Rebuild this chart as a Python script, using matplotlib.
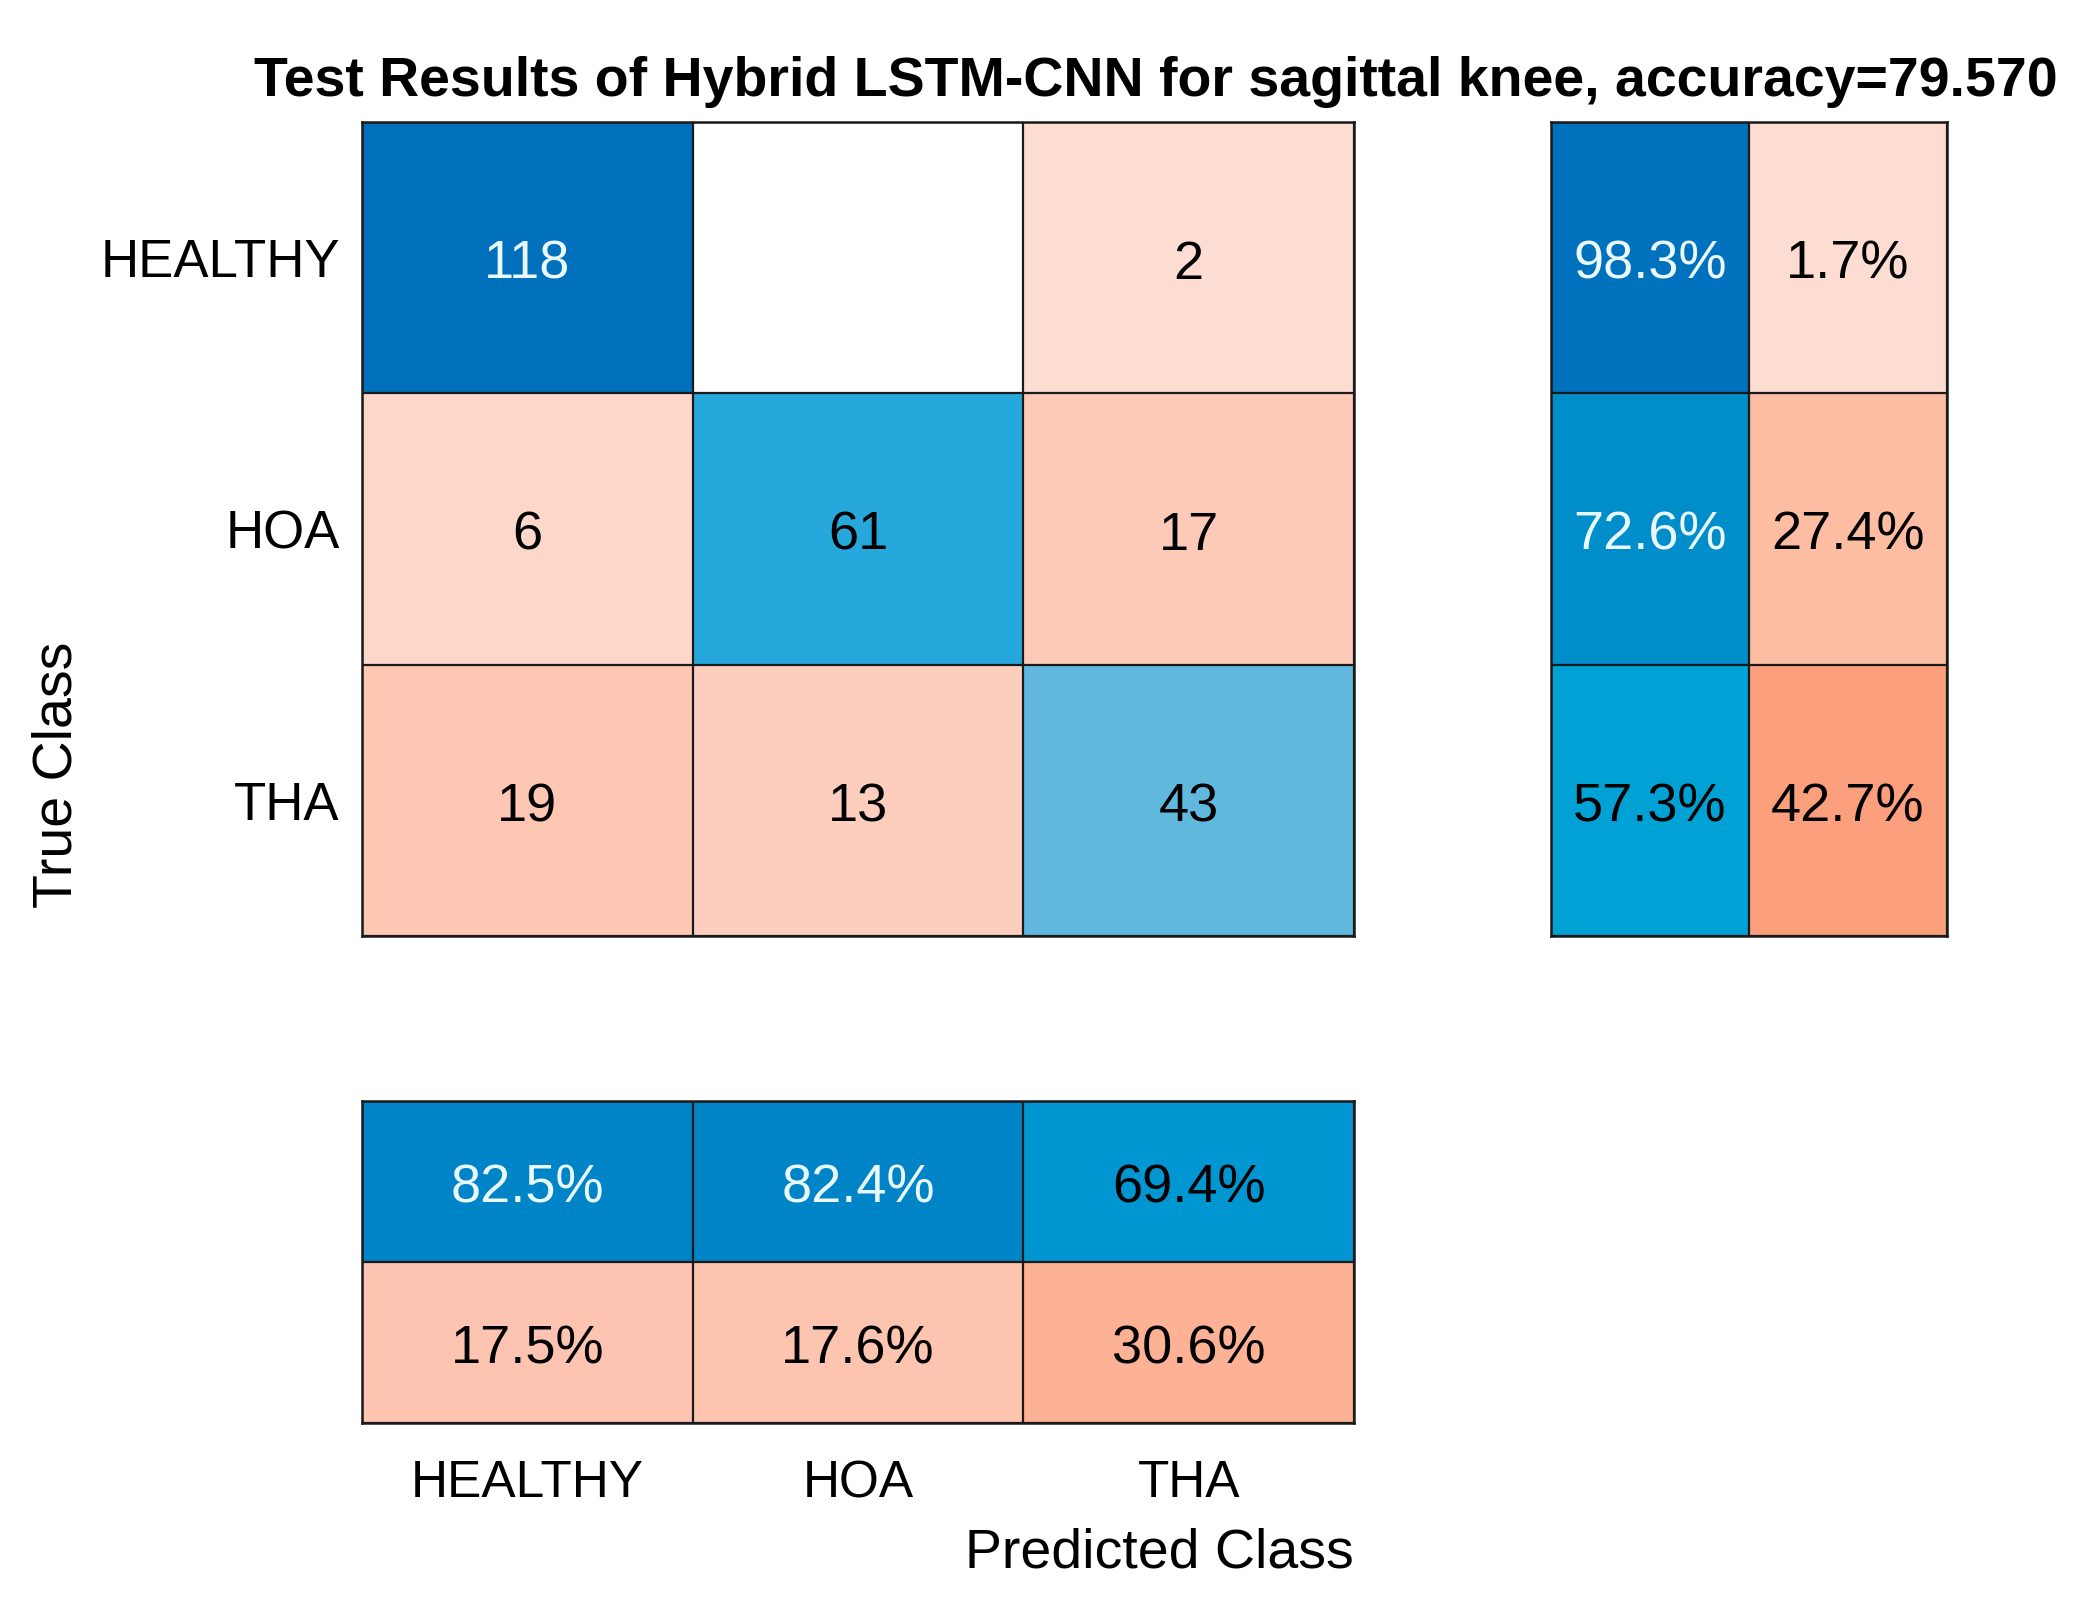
import numpy as np
import matplotlib
matplotlib.use("Agg")
import matplotlib.pyplot as plt
from matplotlib.colors import LinearSegmentedColormap

classes = ["HEALTHY", "HOA", "THA"]
conf = np.array([[118, 0, 2],
                 [6, 61, 17],
                 [19, 13, 43]])
row_summary = np.array([[98.3, 1.7],
                        [72.6, 27.4],
                        [57.3, 42.7]])
col_summary = np.array([[82.5, 82.4, 69.4],
                        [17.5, 17.6, 30.6]])
title = "Test Results of Hybrid LSTM-CNN for sagittal knee, accuracy=79.570"

plt.rcParams['font.family'] = ['Liberation Sans', 'DejaVu Sans']

def c(r, g, b):
    return (r / 255, g / 255, b / 255)

blue = LinearSegmentedColormap.from_list("bl", [
    (0.0, c(225, 242, 250)), (0.36, c(98, 185, 224)), (0.52, c(39, 168, 220)),
    (0.57, c(0, 162, 214)), (0.69, c(0, 152, 210)), (0.73, c(0, 141, 202)),
    (0.83, c(0, 132, 200)), (1.0, c(0, 112, 188))])
red = LinearSegmentedColormap.from_list("rd", [
    (0.0, c(254, 226, 217)), (0.017, c(253, 221, 210)), (0.175, c(253, 197, 177)),
    (0.274, c(253, 190, 164)), (0.306, c(253, 177, 149)), (0.427, c(252, 160, 126)),
    (1.0, c(215, 80, 40))])

W, H = 2085, 1612
fig = plt.figure(figsize=(W / 100, H / 100), dpi=100)

def draw(ax, vals, diagmask, norm, labels):
    nr, nc = vals.shape
    t = vals / norm
    rgb = np.ones((nr, nc, 3))
    for i in range(nr):
        for j in range(nc):
            if vals[i, j] == 0:
                continue
            cm = blue if diagmask[i, j] else red
            rgb[i, j] = cm(t[i, j])[:3]
    ax.imshow(rgb, aspect='auto', interpolation='nearest')
    for i in range(nr):
        for j in range(nc):
            if vals[i, j] == 0:
                continue
            col = '#eaf8ff' if (diagmask[i, j] and t[i, j] > 0.7) else 'black'
            ax.annotate(labels[i][j], (j, i), xytext=(0, -5), textcoords='offset points',
                        ha='center', va='center', fontsize=39, color=col)
    ax.set_xticks(np.arange(nc + 1) - 0.5, minor=True)
    ax.set_yticks(np.arange(nr + 1) - 0.5, minor=True)
    ax.grid(which='minor', color='#1a1a1a', linewidth=1.6)
    ax.tick_params(which='both', length=0)
    for s in ax.spines.values():
        s.set_color('#1a1a1a')
        s.set_linewidth(1.8)

# main
ax = fig.add_axes([362 / W, 1 - 936 / H, 992 / W, 814 / H])
lab = [[str(v) if v else "" for v in r] for r in conf]
draw(ax, conf.astype(float), np.eye(3, dtype=bool), conf.max(), lab)
ax.set_xticks([])
ax.set_yticks(range(3))
ax.set_yticklabels(classes, fontsize=38)
ax.tick_params(axis='y', which='major', pad=16)
for t_ in ax.get_yticklabels():
    t_.set_y(t_.get_position()[1])

# right summary
ax2 = fig.add_axes([1551 / W, 1 - 936 / H, 396 / W, 814 / H])
lab2 = [[f"{v:.1f}%" for v in r] for r in row_summary]
dm2 = np.zeros(row_summary.shape, bool); dm2[:, 0] = True
draw(ax2, row_summary, dm2, 100.0, lab2)
ax2.set_xticks([]); ax2.set_yticks([])

# bottom summary
ax3 = fig.add_axes([362 / W, 1 - 1423 / H, 992 / W, 322 / H])
lab3 = [[f"{v:.1f}%" for v in r] for r in col_summary]
dm3 = np.zeros(col_summary.shape, bool); dm3[0, :] = True
draw(ax3, col_summary, dm3, 100.0, lab3)
ax3.set_yticks([])
ax3.set_xticks(range(3))
ax3.set_xticklabels(classes, fontsize=37)
ax3.tick_params(axis='x', which='major', pad=26)

fig.text(1156 / W, 1 - 82 / H, title, ha='center', va='center', fontsize=40, fontweight='bold')
fig.text(58 / W, 1 - 775 / H, "True Class", rotation=90, ha='center', va='center', fontsize=40)
fig.text(1354 / W, 1 - 1553 / H, "Predicted Class", ha='right', va='center', fontsize=40)

fig.savefig("out.png", dpi=100)
